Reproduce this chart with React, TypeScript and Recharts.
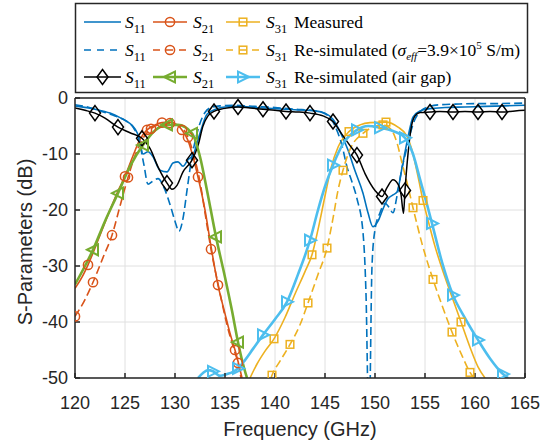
import React from "react";
import { CartesianGrid, Label, Line, LineChart, XAxis, YAxis } from "recharts";

type Pt = [number, number];

// frequency (GHz), magnitude (dB)
const S11_MEAS: Pt[] = [[120,-1.4],[122,-2],[123.5,-2.7],[124.5,-3.5],[125.3,-4.3],[126,-5.5],[126.4,-7],[126.8,-10],[127.3,-9.6],[127.8,-10.5],[128.5,-12.9],[129.2,-13.2],[129.8,-11.6],[130.3,-11.4],[130.8,-12.2],[131.3,-11],[131.8,-10.2],[132.5,-6.3],[133.2,-2.9],[134.2,-1.9],[135,-1.6],[136.5,-1.5],[138,-1.7],[140,-1.9],[142,-2.1],[144,-2.3],[145,-2.7],[145.8,-3.8],[146.5,-6],[147.3,-9.3],[148,-13],[148.8,-17],[149.3,-20.5],[149.8,-23],[150.3,-22],[150.8,-19.8],[151.3,-18],[151.8,-17.3],[152.2,-16.8],[152.7,-12.5],[153.3,-7],[153.8,-3.4],[154.5,-2.3],[155.5,-1.9],[157,-1.7],[159,-1.6],[161,-1.5],[163,-1.4],[165,-1.3]];
const S21_MEAS: Pt[] = [[120,-34],[120.7,-32],[121.3,-29.8],[122.5,-24.5],[123.5,-20],[124.3,-16.6],[125,-14],[125.8,-10.3],[126.5,-7.4],[127.2,-5.7],[128,-4.8],[128.7,-4.4],[129.5,-4.3],[130.2,-4.8],[130.7,-5.7],[131.3,-7.6],[131.8,-10.5],[132.3,-14.1],[133,-20],[133.6,-26.5],[134.3,-33.4],[135,-38.5],[135.5,-42],[136,-45],[136.3,-47],[136.7,-50]];
const S31_MEAS: Pt[] = [[137.5,-50],[138.2,-47.5],[139,-45.2],[139.9,-43],[141,-39.2],[142,-35],[143,-31],[143.7,-28],[144.3,-23.5],[145,-17.5],[145.6,-12.5],[146.3,-8.8],[147.4,-6],[148.5,-4.8],[149.5,-4.4],[151.1,-4.3],[152.3,-5.2],[153.2,-6.8],[153.8,-10],[154.3,-14],[154.8,-18.3],[155.3,-21.8],[156,-26.5],[157,-32],[158,-37],[158.6,-40],[159.5,-44.5],[160.3,-48],[161,-50]];

const S11_SIG: Pt[] = [[120,-1.2],[121,-1.5],[122,-2],[123,-2.6],[124,-3.2],[125,-4],[125.8,-5.2],[126.4,-7.5],[126.9,-12],[127.3,-15.4],[127.8,-14.8],[128.3,-14.4],[128.9,-16],[129.5,-19],[130,-22],[130.4,-23.8],[130.8,-21.5],[131.2,-16.5],[131.6,-11.5],[132,-7.8],[132.5,-4.5],[133,-2.6],[133.6,-1.7],[134.5,-1.4],[136,-1.3],[138,-1.5],[140,-1.7],[142,-2],[144,-2.3],[145,-2.8],[146,-5],[146.7,-8.5],[147.2,-12.3],[147.7,-15],[148.2,-18],[148.8,-24],[149.1,-35],[149.4,-60],[149.7,-30],[150,-23.5],[150.5,-20.5],[151,-18.8],[151.4,-19.5],[151.8,-20.5],[152.2,-17.5],[152.7,-12.5],[153.1,-9.5],[153.5,-6.5],[154,-3.8],[154.6,-2.3],[155.3,-1.6],[156.5,-1.2],[158,-1.1],[160,-1],[162,-1],[165,-0.9]];
const S21_SIG: Pt[] = [[120,-39],[121,-36],[121.8,-32.9],[122.8,-28.5],[123.7,-24.5],[124.5,-19.3],[125.3,-14.2],[126,-10.3],[126.8,-7.2],[127.6,-5.5],[128.5,-4.7],[129.5,-4.5],[130.5,-5.1],[131.3,-7],[132,-11],[132.5,-15],[133,-20.5],[133.6,-27],[134.4,-34],[135.2,-40.5],[136,-45.5],[136.3,-47.3],[136.6,-50]];
const S31_SIG: Pt[] = [[139.6,-50],[139.7,-49.5],[140.5,-47],[141.5,-44],[142.5,-40.5],[143.3,-36.6],[144.3,-31.5],[145.2,-26.8],[145.8,-21.5],[146.3,-16.5],[146.8,-12.9],[147.5,-9.2],[148.8,-6.3],[149.8,-5.2],[150.8,-4.8],[151.6,-5.6],[152.2,-8],[152.7,-11.6],[153.3,-15.8],[153.8,-19.6],[154.7,-26],[155.8,-32.4],[156.8,-37.5],[157.7,-41.8],[158.7,-46],[159.5,-49],[159.9,-50]];

const S11_GAP: Pt[] = [[120,-1.8],[121,-2.2],[122,-2.7],[123,-3.6],[124.3,-5.2],[125.5,-6.2],[126.7,-7.2],[127.5,-9],[128.3,-12.3],[129.2,-15.2],[129.7,-16.3],[130.2,-15.6],[130.8,-13.2],[131.7,-11.1],[132.3,-8.5],[132.8,-5],[133.3,-3.2],[133.9,-2.4],[134.8,-1.9],[136.3,-1.6],[137.5,-1.8],[138.8,-2],[140,-2.2],[141.1,-2.4],[142.3,-2.5],[143.5,-2.7],[144.8,-3.2],[145.8,-4.2],[146.7,-6.5],[147.5,-8.5],[148.2,-10.2],[149,-13.5],[150,-16.5],[150.7,-17.6],[151.2,-16],[151.8,-14.6],[152.3,-15.4],[152.6,-17.2],[152.85,-20.6],[153,-16.5],[153.3,-10],[153.6,-5.5],[154,-3.2],[154.5,-2.6],[155.5,-2.5],[156.5,-2.4],[157.8,-2.5],[159,-2.4],[160.3,-2.5],[161.5,-2.4],[162.7,-2.5],[164,-2.3],[165,-2.2]];
const S21_GAP: Pt[] = [[120,-33.3],[121,-30],[121.8,-27.1],[123,-22],[124.3,-17],[125.5,-12.2],[126.8,-8.4],[128,-5.8],[129.2,-4.8],[130.3,-4.8],[131.7,-6.3],[132.5,-10.5],[133.2,-16.5],[134.1,-24.8],[135,-32],[135.7,-38],[136.3,-43.6],[136.8,-47.5],[137.2,-50]];
const S31_GAP: Pt[] = [[132.3,-50],[132.8,-49.1],[133.3,-48.6],[133.8,-48.8],[134.5,-49.6],[135.2,-49.3],[135.8,-48.9],[136.3,-48.3],[137,-46.8],[137.8,-44.8],[138.8,-42.3],[140,-39.5],[141.2,-36.4],[142.3,-31.5],[143.5,-25.4],[144.3,-20],[145,-15.8],[145.8,-12],[146.8,-8.2],[148.2,-5.7],[149.3,-5],[150.5,-5.3],[151.8,-5.9],[153,-7.1],[153.8,-10],[154.5,-14.5],[155.2,-19],[155.7,-22.4],[156.7,-29.3],[157.8,-35.2],[159,-39.3],[160.3,-43.2],[161.5,-46.5],[162.8,-49.3],[163.3,-50]];

// frequencies that carry a marker
const S21_MEAS_MARKS = [121.3, 125, 127.2, 128.7, 130.7, 132.3, 134.3, 136];
const S31_MEAS_MARKS = [139.9, 143.7, 147.4, 151.1, 154.8, 158.6];
const S21_SIG_MARKS = [120, 121.8, 123.7, 125.3, 127.6, 129.5, 131.3, 133.6, 136.3];
const S31_SIG_MARKS = [139.7, 141.5, 143.3, 145.2, 146.8, 148.8, 150.8, 153.8, 155.8, 157.7, 159.5];
const S11_GAP_MARKS = [122, 124.3, 126.7, 129.2, 131.7, 133.9, 136.3, 138.8, 141.1, 143.5, 145.8, 148.2, 150.7, 153, 155.5, 157.8, 160.3, 162.7];
const S21_GAP_MARKS = [121.8, 124.3, 126.8, 129.2, 131.7, 134.1, 136.3];
const S31_GAP_MARKS = [133.8, 136.3, 138.8, 141.2, 143.5, 145.8, 148.2, 150.5, 153, 155.7, 157.8, 160.3, 162.8];

const FREQ_TICKS = [120, 125, 130, 135, 140, 145, 150, 155, 160, 165];
const DB_TICKS = [-50, -40, -30, -20, -10, 0];

const BLUE = "#0072BD";
const ORANGE = "#D95319";
const YELLOW = "#EDB120";
const GREEN = "#77AC30";
const CYAN = "#4DBEEE";
const DASH = "8 4";

type Kind = "none" | "o" | "s" | "d" | "tl" | "tr";

const series = [
  { id: "s11m", pts: S11_MEAS, marks: [], color: BLUE, w: 1.6, dash: undefined, kind: "none" as Kind },
  { id: "s21m", pts: S21_MEAS, marks: S21_MEAS_MARKS, color: ORANGE, w: 1.6, dash: undefined, kind: "o" as Kind },
  { id: "s31m", pts: S31_MEAS, marks: S31_MEAS_MARKS, color: YELLOW, w: 1.6, dash: undefined, kind: "s" as Kind },
  { id: "s11s", pts: S11_SIG, marks: [], color: BLUE, w: 1.6, dash: DASH, kind: "none" as Kind },
  { id: "s21s", pts: S21_SIG, marks: S21_SIG_MARKS, color: ORANGE, w: 1.6, dash: DASH, kind: "o" as Kind },
  { id: "s31s", pts: S31_SIG, marks: S31_SIG_MARKS, color: YELLOW, w: 1.6, dash: DASH, kind: "s" as Kind },
  { id: "s11g", pts: S11_GAP, marks: S11_GAP_MARKS, color: "#000000", w: 1.5, dash: undefined, kind: "d" as Kind },
  { id: "s21g", pts: S21_GAP, marks: S21_GAP_MARKS, color: GREEN, w: 2.6, dash: undefined, kind: "tl" as Kind },
  { id: "s31g", pts: S31_GAP, marks: S31_GAP_MARKS, color: CYAN, w: 2.6, dash: undefined, kind: "tr" as Kind },
];

function Marker({ kind, x, y, color }: { kind: Kind; x: number; y: number; color: string }) {
  const common = { fill: "none", stroke: color, strokeWidth: kind === "tl" || kind === "tr" ? 2 : 1.5 };
  if (kind === "o") return <circle cx={x} cy={y} r={4.6} {...common} />;
  if (kind === "s") return <rect x={x - 3.8} y={y - 3.8} width={7.6} height={7.6} {...common} />;
  if (kind === "d") return <polygon points={`${x},${y - 7.5} ${x + 5.5},${y} ${x},${y + 7.5} ${x - 5.5},${y}`} {...common} />;
  if (kind === "tl") return <polygon points={`${x - 6},${y} ${x + 5},${y - 5.5} ${x + 5},${y + 5.5}`} {...common} />;
  if (kind === "tr") return <polygon points={`${x + 6},${y} ${x - 5},${y - 5.5} ${x - 5},${y + 5.5}`} {...common} />;
  return null;
}

const markDot = (kind: Kind, color: string, marks: number[]) => (p: any) => {
  const key = `m${p.index}`;
  if (kind === "none" || !marks.includes(p.payload.f)) return <g key={key} />;
  return <g key={key}><Marker kind={kind} x={p.cx} y={p.cy} color={color} /></g>;
};

const serif = "'Liberation Serif', 'Times New Roman', serif";
const sans = "'Liberation Sans', Arial, sans-serif";

function SName({ x, y, n }: { x: number; y: number; n: string }) {
  return (
    <text x={x} y={y} fontFamily={serif} fontSize={17.5} fill="#000">
      <tspan fontStyle="italic">S</tspan>
      <tspan fontSize={12.5} dy={5}>{n}</tspan>
    </text>
  );
}

const LEGEND_ROWS = [
  { y: 22, items: ["s11m", "s21m", "s31m"], text: <tspan>Measured</tspan> },
  {
    y: 50,
    items: ["s11s", "s21s", "s31s"],
    text: (
      <>
        <tspan>Re-simulated (</tspan>
        <tspan fontStyle="italic">σ</tspan>
        <tspan fontStyle="italic" fontSize={11} dy={4}>eff</tspan>
        <tspan dy={-4}>=3.9×10</tspan>
        <tspan fontSize={11} dy={-7}>5</tspan>
        <tspan dy={7}> S/m)</tspan>
      </>
    ),
  },
  { y: 77, items: ["s11g", "s21g", "s31g"], text: <tspan>Re-simulated (air gap)</tspan> },
];
const SAMPLE_X: Pt[] = [[84, 121], [153, 187], [226, 260]];
const NAME_X = [125, 193, 266];
const NAMES = ["11", "21", "31"];

function LegendBox() {
  return (
    <svg width={556} height={96} style={{ position: "absolute", left: 0, top: 0 }}>
      <rect x={75.5} y={3.5} width={452} height={89} fill="#fff" stroke="#262626" strokeWidth={1.5} />
      {LEGEND_ROWS.map((row) => (
        <g key={row.y}>
          {row.items.map((id, i) => {
            const s = series.find((q) => q.id === id)!;
            const [x1, x2] = SAMPLE_X[i];
            return (
              <g key={id}>
                <line x1={x1} x2={x2} y1={row.y} y2={row.y} stroke={s.color} strokeWidth={s.w} strokeDasharray={s.dash ? "7 6" : undefined} />
                <Marker kind={s.kind} x={(x1 + x2) / 2} y={row.y} color={s.color} />
                <SName x={NAME_X[i]} y={row.y + 6} n={NAMES[i]} />
              </g>
            );
          })}
          <text x={294} y={row.y + 6} fontFamily={serif} fontSize={17.5} fill="#000">{row.text}</text>
        </g>
      ))}
    </svg>
  );
}

const yTitle = (props: any) => {
  const vb = props.viewBox;
  const cx = vb.x + 25;
  const cy = vb.y + vb.height / 2 + 4;
  return (
    <text x={cx} y={cy} transform={`rotate(-90 ${cx} ${cy})`} textAnchor="middle" dominantBaseline="central" fontFamily={sans} fontSize={20} fill="#262626">
      S-Parameters (dB)
    </text>
  );
};

const xTitle = (props: any) => {
  const vb = props.viewBox;
  return (
    <text x={vb.x + vb.width / 2} y={vb.y + 51} textAnchor="middle" dominantBaseline="central" fontFamily={sans} fontSize={20} fill="#262626">
      Frequency (GHz)
    </text>
  );
};

const tickStyle = { fontSize: 18, fill: "#262626", fontFamily: sans };
const axisLine = { stroke: "#262626", strokeWidth: 1.5 };

export default function App() {
  return (
    <div style={{ position: "absolute", left: 0, top: 0, width: 556, height: 443, background: "#fff", overflow: "hidden" }}>
      <LineChart width={556} height={443} margin={{ top: 97, right: 30, bottom: 0, left: 0 }}>
        <CartesianGrid stroke="#e0e0e0" strokeWidth={1} />
        <XAxis xAxisId={0} type="number" dataKey="f" domain={[120, 165]} ticks={FREQ_TICKS} allowDataOverflow
          height={65} tick={tickStyle} tickSize={-5} tickMargin={23} axisLine={axisLine} tickLine={axisLine}>
          <Label content={xTitle} />
        </XAxis>
        <XAxis xAxisId="t" orientation="top" type="number" dataKey="f" domain={[120, 165]} ticks={FREQ_TICKS}
          height={1} tick={false} tickSize={-5} axisLine={axisLine} tickLine={axisLine} />
        <YAxis yAxisId={0} type="number" domain={[-50, 0]} ticks={DB_TICKS} allowDataOverflow
          width={75} tick={tickStyle} tickSize={-5} tickMargin={12} axisLine={axisLine} tickLine={axisLine}>
          <Label content={yTitle} />
        </YAxis>
        <YAxis yAxisId="r" orientation="right" type="number" domain={[-50, 0]} ticks={DB_TICKS}
          width={1} tick={false} tickSize={-5} axisLine={axisLine} tickLine={axisLine} />
        {series.map((s) => (
          <Line
            key={s.id}
            data={s.pts.map(([f, v]) => ({ f, v }))}
            dataKey="v"
            type="monotone"
            stroke={s.color}
            strokeWidth={s.w}
            strokeDasharray={s.dash}
            dot={markDot(s.kind, s.color, s.marks)}
            activeDot={false}
            isAnimationActive={false}
          />
        ))}
      </LineChart>
      <LegendBox />
    </div>
  );
}
